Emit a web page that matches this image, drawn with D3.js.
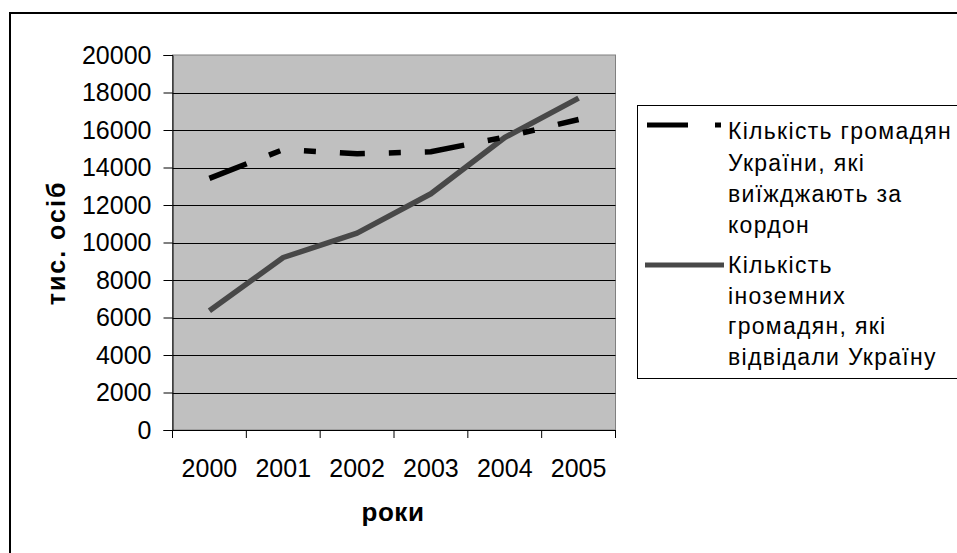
<!DOCTYPE html>
<html>
<head>
<meta charset="utf-8">
<script src="https://cdn.jsdelivr.net/npm/d3@7"></script>
<style>
  html, body { margin: 0; padding: 0; background: #fff; }
  svg { display: block; font-family: "Liberation Sans", Arial, sans-serif; }
</style>
</head>
<body>
<svg id="chart" width="957" height="553"></svg>
<script>
const years = ["2000", "2001", "2002", "2003", "2004", "2005"];
const outbound = [13420, 14960, 14730, 14840, 15620, 16560];
const inbound = [6360, 9200, 10500, 12600, 15600, 17700];
const yTicks = [0, 2000, 4000, 6000, 8000, 10000, 12000, 14000, 16000, 18000, 20000];
const seriesNames = [
  ["Кількість громадян", "України, які", "виїжджають за", "кордон"],
  ["Кількість", "іноземних", "громадян, які", "відвідали Україну"]
];
const xTitle = "роки";
const yTitle = "тис. осіб";

const svg = d3.select("#chart");
const L = 172.5, R = 615.5, T = 55, B = 430;

const x = d3.scaleBand().domain(years).range([L, R]).padding(0);
const y = d3.scaleLinear().domain([0, 20000]).range([B, T]);

// outer chart border
svg.append("rect").attr("x", 10).attr("y", 13).attr("width", 1000).attr("height", 600)
  .attr("fill", "#fff").attr("stroke", "#000").attr("stroke-width", 2);

// plot area
svg.append("rect").attr("x", L).attr("y", T).attr("width", R - L).attr("height", B - T)
  .attr("fill", "#c0c0c0").attr("stroke", "#808080").attr("stroke-width", 1);

// gridlines
svg.append("g").selectAll("line").data(yTicks.filter(d => d > 0 && d < 20000)).join("line")
  .attr("x1", L).attr("x2", R)
  .attr("y1", d => Math.round(y(d)) + 0.5).attr("y2", d => Math.round(y(d)) + 0.5)
  .attr("stroke", "#000").attr("stroke-width", 1);

// y axis
const yAxis = svg.append("g").attr("transform", `translate(${L},0)`)
  .call(d3.axisLeft(y).tickValues(yTicks).tickSize(9).tickPadding(12).tickFormat(d3.format("d")));
yAxis.select(".domain").attr("stroke", "#000");
yAxis.selectAll(".tick line").attr("stroke", "#000");
yAxis.selectAll("text").attr("font-size", 25).attr("fill", "#000")
  .attr("font-family", "'Liberation Sans', Arial, sans-serif");

// x axis line + ticks at band edges
svg.append("line").attr("x1", L).attr("x2", R).attr("y1", B + 0.5).attr("y2", B + 0.5)
  .attr("stroke", "#000");
const edges = years.map(d => x(d)).concat([x(years[years.length - 1]) + x.bandwidth()]);
svg.append("g").selectAll("line").data(edges).join("line")
  .attr("x1", d => d).attr("x2", d => d).attr("y1", B).attr("y2", B + 8)
  .attr("stroke", "#000");
const xAxis = svg.append("g").attr("transform", `translate(0,${B})`)
  .call(d3.axisBottom(x).tickSize(0).tickPadding(29));
xAxis.select(".domain").remove();
xAxis.selectAll("text").attr("font-size", 25).attr("fill", "#000")
  .attr("font-family", "'Liberation Sans', Arial, sans-serif");

// lines
const cx = d => x(d) + x.bandwidth() / 2;
const line = d3.line().x((d, i) => cx(years[i])).y(d => y(d));
const dashPattern = "40,24,12,24,12,24,25,24,12,24";

svg.append("path").datum(inbound).attr("d", line)
  .attr("fill", "none").attr("stroke", "#484848").attr("stroke-width", 5.5)
  .attr("stroke-linejoin", "round");
svg.append("path").datum(outbound).attr("d", line)
  .attr("fill", "none").attr("stroke", "#000").attr("stroke-width", 5.5)
  .attr("stroke-dasharray", dashPattern);

// axis titles
svg.append("text").attr("x", 393).attr("y", 521).attr("text-anchor", "middle")
  .attr("font-size", 26).attr("font-weight", "bold").attr("letter-spacing", 0.5).text(xTitle);
svg.append("text").attr("transform", "translate(65,243) rotate(-90)").attr("text-anchor", "middle")
  .attr("font-size", 25).attr("font-weight", "bold").attr("letter-spacing", 2).text(yTitle);

// legend
svg.append("rect").attr("x", 637.5).attr("y", 105.5).attr("width", 400).attr("height", 273)
  .attr("fill", "#fff").attr("stroke", "#000").attr("stroke-width", 1);

const lg = svg.append("g");
lg.append("line").attr("x1", 647).attr("x2", 722).attr("y1", 125).attr("y2", 125)
  .attr("stroke", "#000").attr("stroke-width", 5).attr("stroke-dasharray", "41,27,6,40");
lg.append("line").attr("x1", 645).attr("x2", 724).attr("y1", 265).attr("y2", 265)
  .attr("stroke", "#484848").attr("stroke-width", 5);

const baselines = [[139, 171, 202, 233], [273, 304, 334, 365]];
seriesNames.forEach((lines, si) => {
  lines.forEach((t, li) => {
    lg.append("text").attr("x", 728).attr("y", baselines[si][li])
      .attr("font-size", 23).attr("letter-spacing", 1.3).attr("fill", "#000").text(t);
  });
});
</script>
</body>
</html>
